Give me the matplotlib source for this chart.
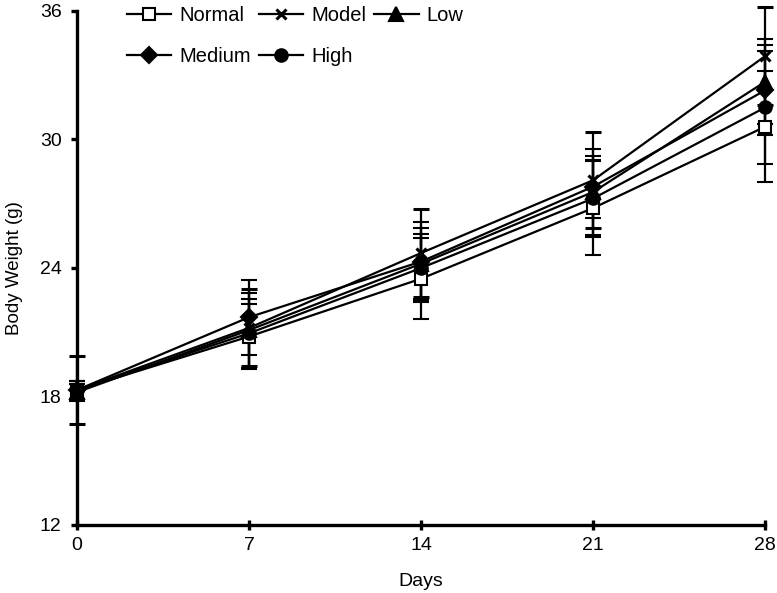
import matplotlib
matplotlib.use("Agg")
import matplotlib.pyplot as plt

plt.rcParams['font.family'] = ['Liberation Sans', 'DejaVu Sans']

days = [0, 7, 14, 21, 28]
groups = ['Normal', 'Model', 'Low', 'Medium', 'High']

# mean body weight (g) per group
means = {
    'Normal': [18.3, 20.8, 23.5, 26.8, 30.6],
    'Model':  [18.3, 21.2, 24.7, 28.1, 33.9],
    'Low':    [18.2, 21.1, 24.2, 27.55, 32.7],
    'Medium': [18.3, 21.7, 24.3, 27.8, 32.3],
    'High':   [18.3, 20.95, 24.0, 27.25, 31.5],
}
# standard deviations
sds = {
    'Normal': [0.4, 1.5, 1.9, 2.2, 2.6],
    'Model':  [1.6, 1.8, 2.05, 2.25, 2.3],
    'Low':    [0.4, 1.75, 1.65, 2.0, 2.0],
    'Medium': [0.4, 1.75, 1.85, 1.45, 2.1],
    'High':   [0.4, 1.6, 1.6, 1.8, 2.65],
}

styles = {
    'Normal': dict(marker='s', mfc='white', ms=9),
    'Model':  dict(marker='x', mfc='black', ms=6.5, mew=2.2),
    'Low':    dict(marker='^', mfc='black', ms=10),
    'Medium': dict(marker='D', mfc='black', ms=8),
    'High':   dict(marker='o', mfc='black', ms=9),
}

fig = plt.figure(figsize=(7.77, 5.93), dpi=100)
ax = fig.add_axes([0.099, 0.1147, 0.886, 0.8668])

handles = {}
for g in groups:
    st = styles[g]
    eb = ax.errorbar(days, means[g], yerr=sds[g], color='black', lw=1.6,
                     elinewidth=1.6, capsize=6, capthick=1.6,
                     marker=st['marker'], ms=st['ms'], mfc=st['mfc'],
                     mec='black', mew=st.get('mew', 1.5), clip_on=False,
                     zorder=3)
    handles[g] = eb[0]

ax.set_xlim(0, 28)
ax.set_ylim(12, 36)
ax.set_xticks(days)
ax.set_yticks([12, 18, 24, 30, 36])
ax.spines['top'].set_visible(False)
ax.spines['right'].set_visible(False)
ax.spines['left'].set_linewidth(2.4)
ax.spines['bottom'].set_linewidth(2.4)
ax.tick_params(axis='y', direction='out', length=4, width=2.4, labelsize=14, pad=7)
ax.tick_params(axis='x', direction='inout', length=7, width=2.4, labelsize=14, pad=5)
ax.set_xlabel('Days', fontsize=14, labelpad=14)
ax.set_ylabel('Body Weight (g)', fontsize=13.5, labelpad=12)

order = ['Normal', 'Medium', 'Model', 'High', 'Low']
fig.legend([handles[g] for g in order], order, loc='upper left',
           bbox_to_anchor=(0.158, 0.997), ncol=3, frameon=False, fontsize=14.5,
           handlelength=2.2, handletextpad=0.4, columnspacing=0.4,
           labelspacing=1.1, borderpad=0.2, borderaxespad=0)

fig.savefig('out.png', dpi=100)
